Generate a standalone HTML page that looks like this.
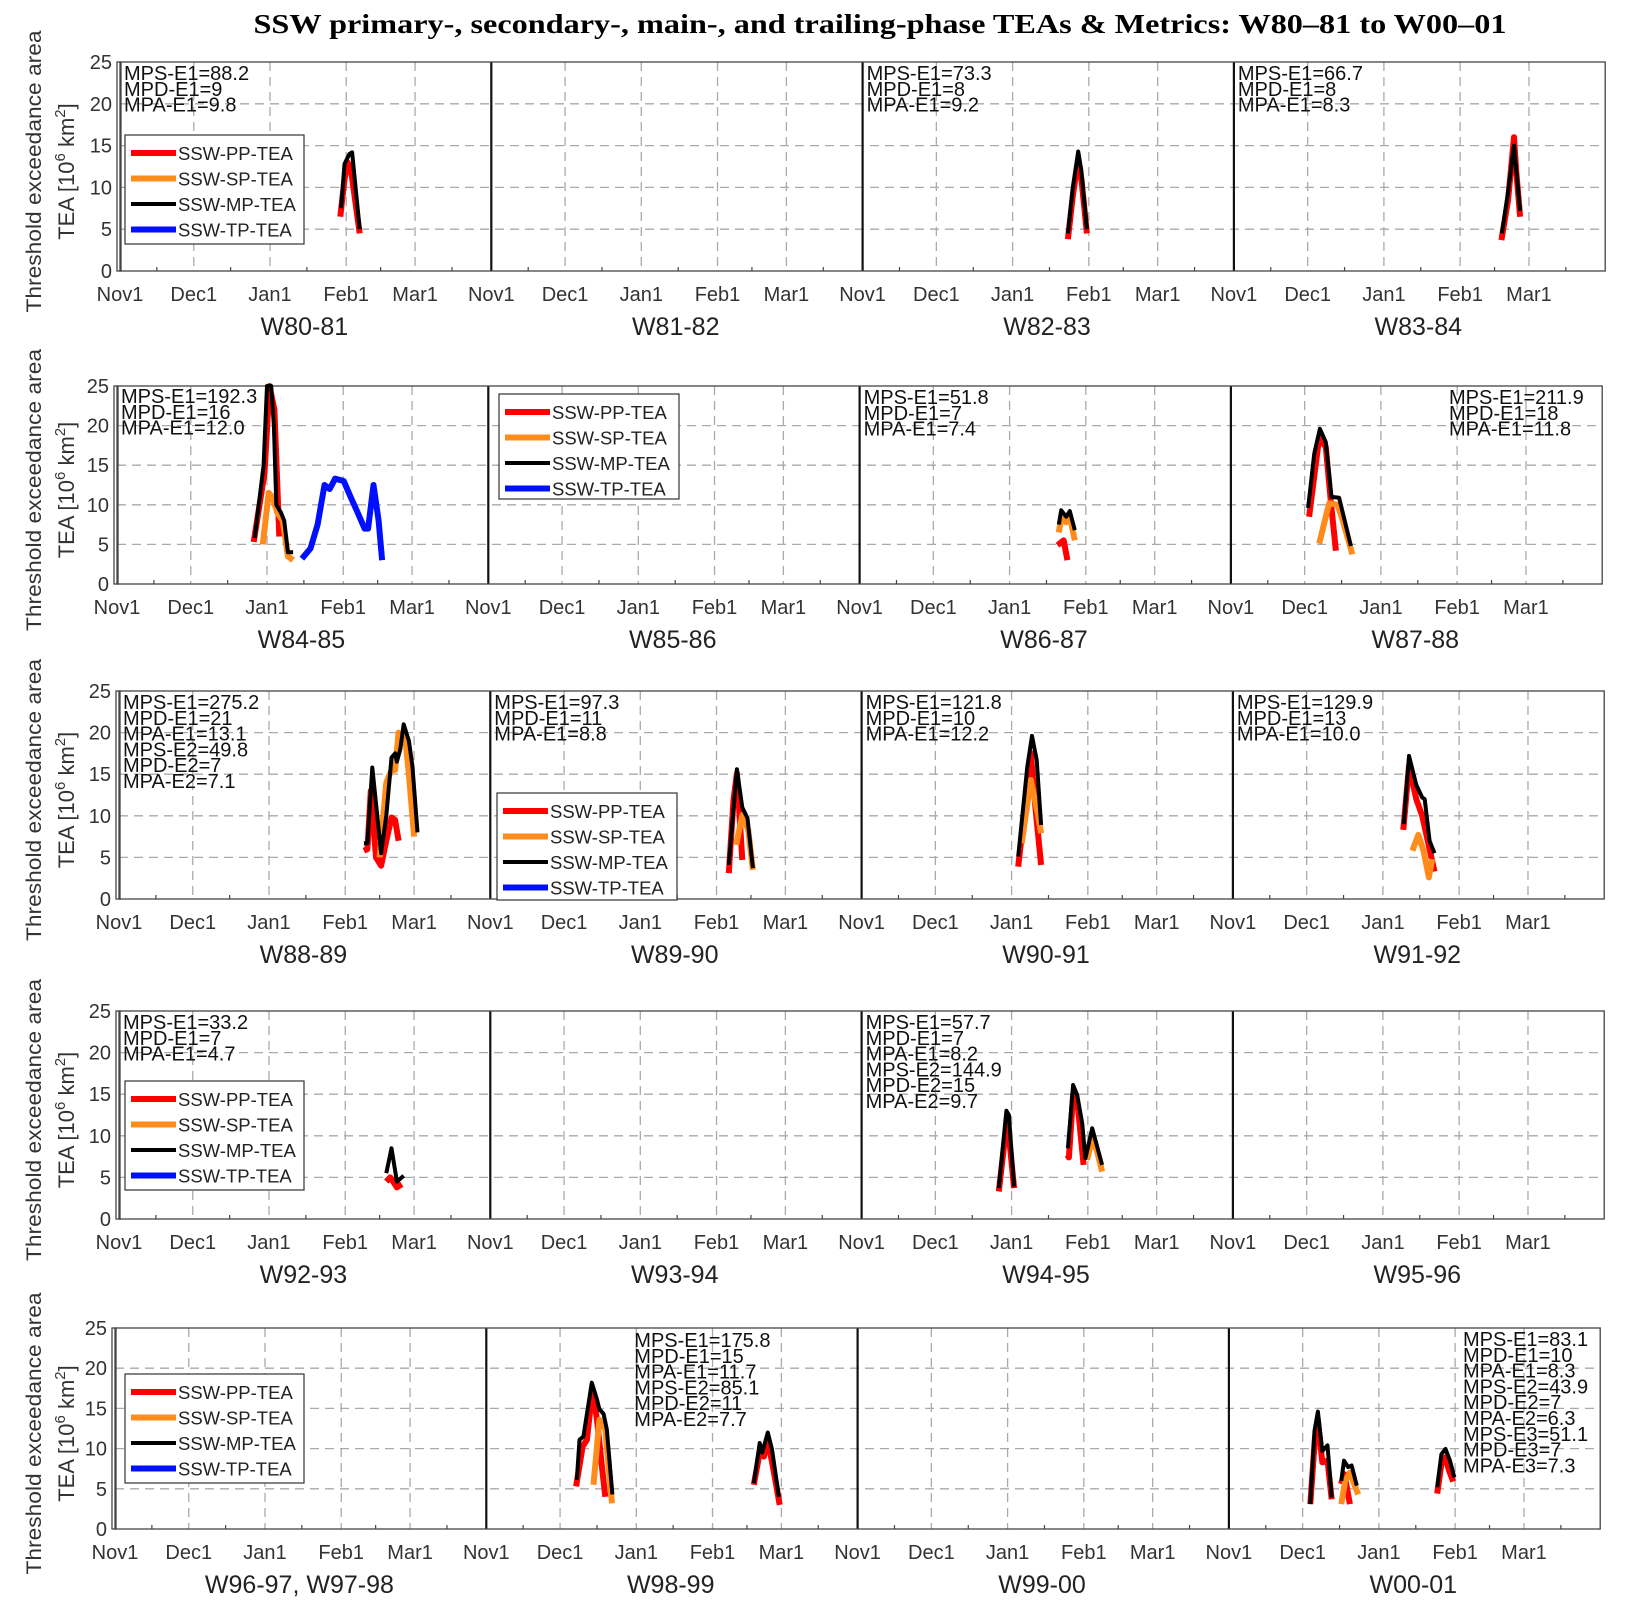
<!DOCTYPE html>
<html><head><meta charset="utf-8"><title>SSW TEAs</title>
<style>html,body{margin:0;padding:0;background:#fff}svg{display:block}</style></head>
<body>
<svg id="chart" width="1628" height="1614" viewBox="0 0 1628 1614" xmlns="http://www.w3.org/2000/svg" font-family="Liberation Sans, Arial, sans-serif">
<text x="880" y="33" text-anchor="middle" font-family="Liberation Serif, serif" font-weight="bold" font-size="27" textLength="1253" lengthAdjust="spacingAndGlyphs">SSW primary-, secondary-, main-, and trailing-phase TEAs &amp; Metrics: W80–81 to W00–01</text>
</svg>
<script>
// ---- data: [dayFromNov1, TEA] ----
const yTicks = [0,5,10,15,20,25];
const monthLabels = ['Nov1','Dec1','Jan1','Feb1','Mar1'];
const monthDays = [0,30,61,92,120];
const minorDays = [15,45,76,106,135];
const winterLabels = ['W80-81','W81-82','W82-83','W83-84','W84-85','W85-86','W86-87','W87-88','W88-89','W89-90','W90-91','W91-92','W92-93','W93-94','W94-95','W95-96','W96-97, W97-98','W98-99','W99-00','W00-01'];
const legendItems = ['SSW-PP-TEA','SSW-SP-TEA','SSW-MP-TEA','SSW-TP-TEA'];

const w8081_pp = [[89.6,6.5],[91.3,11],[92.6,13],[94,12],[97.5,4.5]];
const w8081_mp = [[89.9,7.5],[91.3,12.8],[93.3,14],[94.4,14.2],[97.5,5]];
const w8283_pp = [[83.5,3.8],[85.5,9],[87.5,13],[89,11],[91.2,4.5]];
const w8283_mp = [[83.5,4.5],[85.5,10],[87.7,14.3],[89,12],[91.2,5]];
const w8384_pp = [[108.8,3.7],[111.5,8.5],[113.9,16],[114.8,12],[116.4,6.5]];
const w8384_mp = [[109,4.5],[111.5,9.5],[113.9,15],[116.4,7.2]];
const w8485_pp = [[55.6,5.3],[60,14],[62,25],[64,22],[66,6]];
const w8485_sp = [[59.3,5],[61.7,11.5],[63.1,11],[65.2,9],[67.4,8],[69.5,3.5],[71.6,3]];
const w8485_mp = [[56,5.8],[59.6,15],[61,25],[62.7,25],[63.8,20],[64.8,10],[66.7,9],[68,8],[69.5,4],[71.6,4]];
const w8485_tp = [[75.2,3.2],[78.7,4.5],[81.6,7.5],[84.4,12.5],[86.5,12],[88.7,13.3],[92.2,13],[95,11],[97.9,9],[100.7,7],[102.1,7],[104.3,12.5],[106.4,8],[107.8,3]];
const w8687_pp = [[80.5,4.9],[83,5.5],[84.5,3]];
const w8687_sp = [[81,6.5],[82,8.3],[84,7.8],[85.5,8.5],[87.5,5.5]];
const w8687_mp = [[81,7.5],[82,9.3],[84,8.5],[85.5,9.2],[87.5,6.8]];
const w8788_pp = [[31.8,8.5],[35.9,18.5],[38.6,17.3],[40.7,10.2],[42.7,4.2]];
const w8788_sp = [[35.9,5.1],[38.6,8.5],[40,10.2],[43.4,10],[45.4,8.1],[49.4,3.75]];
const w8788_mp = [[31.4,9.6],[33.9,16.5],[36.2,19.6],[38.6,17.9],[40.9,11],[44,10.9],[48.8,4.8]];
const w8889_pp = [[99.6,5.8],[101,6],[102.4,13],[104.5,5],[106.6,4],[108.7,7],[110.8,9.8],[112.3,9.5],[113.7,7]];
const w8889_sp = [[106,5],[108.7,14],[110.8,15.5],[112.3,15.5],[113.7,20],[116.5,19],[117.9,15],[120,7.5]];
const w8889_mp = [[99.6,6.7],[101,6.7],[103,15.8],[106.6,5.5],[108.7,10],[110.8,17],[112.3,17.5],[113,16.5],[114.4,18],[115.8,21],[117.9,19],[119.3,16],[121.4,8]];
const w8990_pp = [[97,3.1],[98.9,11.9],[100.3,15.1],[102.5,4.7]];
const w8990_sp = [[100,6.5],[102.5,10.1],[104.9,8.3],[106.8,3.5]];
const w8990_mp = [[97,4.1],[100.3,15.6],[102.5,11],[104.6,9.7],[106.8,3.7]];
const w9091_pp = [[63.7,3.9],[67.4,13.5],[68.8,17.5],[70.5,11.5],[73,4.1]];
const w9091_sp = [[65.1,6.7],[68.8,14.3],[71.6,10.3],[73,7.9]];
const w9091_mp = [[63.7,5.1],[67.4,15.9],[69.3,19.6],[71.2,16.7],[73,8.9]];
const w9192_pp = [[69.3,8.3],[71.6,16],[74.6,12],[77,10],[80,6],[82,3.3]];
const w9192_sp = [[73,5.8],[75.4,7.7],[77.5,5.8],[79.7,2.6],[81,4.8]];
const w9192_mp = [[69.5,9],[71.6,17.2],[74.6,13.7],[77,12.2],[78,12],[80,7],[82,5.5]];
const w9293_pp = [[108.7,4.5],[110.3,5],[111.5,4.5],[113,3.8],[115,4.2]];
const w9293_mp = [[108.7,5.5],[110.8,8.5],[113,4.5],[115.8,5.2]];
const w9495_pp_e1 = [[55.8,3.3],[59.2,12.1],[62,3.7]];
const w9495_mp_e1 = [[55.8,3.7],[58.9,13],[59.9,12.5],[62,3.9]];
const w9495_pp_e2 = [[83.6,7.7],[84.3,7.4],[86,14.9],[87.9,13.7],[90.3,6.5]];
const w9495_sp_e2 = [[91.7,7.1],[93.8,9.7],[95.8,8.1],[97.8,5.7]];
const w9495_mp_e2 = [[83.9,8.5],[86,16.1],[87.7,14.9],[89.7,11.5],[91,7.3],[93.8,10.9],[95.8,8.7],[97.8,6.5]];
const w9899_pp_e1 = [[36.5,5.3],[39.2,10.3],[40.9,11.1],[43.2,17.4],[45,13.6],[47,7.8],[48.4,4]];
const w9899_sp_e1 = [[43.6,5.5],[46,13.6],[48.4,12.4],[51.1,3.2]];
const w9899_mp_e1 = [[36.8,6.1],[37.9,11.1],[39.5,11.5],[42.9,18.2],[45,16.1],[46,14.9],[47.7,14.3],[49,12.4],[51.3,4.3]];
const w9899_pp_e2 = [[108.8,5.5],[111.2,9.5],[112.9,9],[114.5,11.1],[117,7],[119.3,3]];
const w9899_mp_e2 = [[108.8,5.7],[111.2,10.7],[112.2,9.5],[114.5,12],[116.2,9.9],[119,4]];
const w0001_pp_e1 = [[33.1,3.1],[35,11.4],[36.2,13.5],[38,8.3],[40.1,8.5],[41.8,3.7]];
const w0001_mp_e1 = [[33.1,3.1],[34.8,12.2],[36.2,14.6],[38,9.7],[40.1,10.4],[41.8,3.9]];
const w0001_pp_e2 = [[45.6,5.6],[47,6.8],[49.2,3.1]];
const w0001_sp_e2 = [[45.7,3.1],[47.3,6],[49.2,7],[52.6,4.3]];
const w0001_mp_e2 = [[45.7,6],[46.8,8.5],[48.5,7.7],[49.9,7.9],[52,5.4]];
const w0001_pp_e3 = [[84.7,4.4],[86.4,8.1],[88,8.9],[89.5,7.3],[91.2,5.9]];
const w0001_mp_e3 = [[84.7,5.2],[86.4,9.3],[88.1,9.95],[89.9,8.5],[91.7,6.4]];

const stats_8081 = ['MPS-E1=88.2','MPD-E1=9','MPA-E1=9.8'];
const stats_8283 = ['MPS-E1=73.3','MPD-E1=8','MPA-E1=9.2'];
const stats_8384 = ['MPS-E1=66.7','MPD-E1=8','MPA-E1=8.3'];
const stats_8485 = ['MPS-E1=192.3','MPD-E1=16','MPA-E1=12.0'];
const stats_8687 = ['MPS-E1=51.8','MPD-E1=7','MPA-E1=7.4'];
const stats_8788 = ['MPS-E1=211.9','MPD-E1=18','MPA-E1=11.8'];
const stats_8889 = ['MPS-E1=275.2','MPD-E1=21','MPA-E1=13.1','MPS-E2=49.8','MPD-E2=7','MPA-E2=7.1'];
const stats_8990 = ['MPS-E1=97.3','MPD-E1=11','MPA-E1=8.8'];
const stats_9091 = ['MPS-E1=121.8','MPD-E1=10','MPA-E1=12.2'];
const stats_9192 = ['MPS-E1=129.9','MPD-E1=13','MPA-E1=10.0'];
const stats_9293 = ['MPS-E1=33.2','MPD-E1=7','MPA-E1=4.7'];
const stats_9495 = ['MPS-E1=57.7','MPD-E1=7','MPA-E1=8.2','MPS-E2=144.9','MPD-E2=15','MPA-E2=9.7'];
const stats_9899 = ['MPS-E1=175.8','MPD-E1=15','MPA-E1=11.7','MPS-E2=85.1','MPD-E2=11','MPA-E2=7.7'];
const stats_0001 = ['MPS-E1=83.1','MPD-E1=10','MPA-E1=8.3','MPS-E2=43.9','MPD-E2=7','MPA-E2=6.3','MPS-E3=51.1','MPD-E3=7','MPA-E3=7.3'];

// ---- layout (not data) ----
const rows = [{top:62,bot:271,left:120},{top:386,bot:584,left:117},{top:691,bot:899,left:119},{top:1011,bot:1219,left:119},{top:1328,bot:1529,left:115}];
const PW = 371.3, DAYS = 151, YMAX = 25;
const COL = {pp:'#ff0000', sp:'#ff8c1a', mp:'#000000', tp:'#0010ff'};
const WID = {pp:6, sp:6, mp:4, tp:6};

const panelSeries = {
  0:[['pp',w8081_pp],['mp',w8081_mp]],
  2:[['pp',w8283_pp],['mp',w8283_mp]],
  3:[['pp',w8384_pp],['mp',w8384_mp]],
  4:[['pp',w8485_pp],['sp',w8485_sp],['mp',w8485_mp],['tp',w8485_tp]],
  6:[['pp',w8687_pp],['sp',w8687_sp],['mp',w8687_mp]],
  7:[['pp',w8788_pp],['sp',w8788_sp],['mp',w8788_mp]],
  8:[['pp',w8889_pp],['sp',w8889_sp],['mp',w8889_mp]],
  9:[['pp',w8990_pp],['sp',w8990_sp],['mp',w8990_mp]],
  10:[['pp',w9091_pp],['sp',w9091_sp],['mp',w9091_mp]],
  11:[['pp',w9192_pp],['sp',w9192_sp],['mp',w9192_mp]],
  12:[['pp',w9293_pp],['mp',w9293_mp]],
  14:[['pp',w9495_pp_e1],['mp',w9495_mp_e1],['pp',w9495_pp_e2],['sp',w9495_sp_e2],['mp',w9495_mp_e2]],
  17:[['pp',w9899_pp_e1],['sp',w9899_sp_e1],['mp',w9899_mp_e1],['pp',w9899_pp_e2],['mp',w9899_mp_e2]],
  19:[['pp',w0001_pp_e1],['mp',w0001_mp_e1],['pp',w0001_pp_e2],['sp',w0001_sp_e2],['mp',w0001_mp_e2],['pp',w0001_pp_e3],['mp',w0001_mp_e3]]
};
const panelStats = {0:[stats_8081,4,3],2:[stats_8283,4,3],3:[stats_8384,4,3],4:[stats_8485,4,2],6:[stats_8687,4,3],7:[stats_8788,-1,3],
  8:[stats_8889,4,3],9:[stats_8990,4,3],10:[stats_9091,4,3],11:[stats_9192,4,3],12:[stats_9293,4,3],14:[stats_9495,4,3],17:[stats_9899,148,4],19:[stats_0001,-1,3]};
const statsRightX = {7:1449, 19:1463};
const legendPanels = {0:[125,135,179,109],5:[499,394,180,105],9:[497,793,180,107],12:[125,1081,179,109],16:[125,1374,179,109]};

const NS = 'http://www.w3.org/2000/svg';
const svg = document.getElementById('chart');
function mk(tag, attrs, parent){ const e=document.createElementNS(NS,tag); for(const k in attrs) e.setAttribute(k,attrs[k]); (parent||svg).appendChild(e); return e; }
function xScale(r,c,day){ return rows[r].left + c*PW + day*PW/DAYS; }
function yScale(r,v){ const R=rows[r]; return R.bot - v*(R.bot-R.top)/YMAX; }

rows.forEach((R,r)=>{
  const g = mk('g',{});
  
  
  const right = R.left + 4*PW;
  yTicks.forEach(t=>{
    if(t>0 && t<25){
      const l = mk('line',{x1:R.left,x2:right,y1:yScale(r,t),y2:yScale(r,t),stroke:'#aaa','stroke-width':1.3,'stroke-dasharray':'9,6'},g);
      
      
    }
    const tl = mk('text',{x:R.left-8,y:yScale(r,t)+7,'text-anchor':'end','font-size':20,fill:'#333'},g);
    tl.textContent = t;
    
    
  });
  for(let c=0;c<4;c++){
    monthDays.forEach((d,i)=>{
      const x = xScale(r,c,d);
      if(i>0){
        const l = mk('line',{x1:x,x2:x,y1:R.top,y2:R.bot,stroke:'#aaa','stroke-width':1.3,'stroke-dasharray':'9,6'},g);
        
        
      }
      const tl = mk('text',{x:x,y:R.bot+30,'text-anchor':'middle','font-size':20,fill:'#333'},g);
      tl.textContent = monthLabels[i];
      
      
    });
    minorDays.forEach(d=>{
      const x = xScale(r,c,d);
      const m = mk('line',{x1:x,x2:x,y1:R.bot,y2:R.bot-4,stroke:'#444','stroke-width':1.2},g);
      
      
    });
    if(c>0){
      const s = mk('line',{x1:xScale(r,c,0),x2:xScale(r,c,0),y1:R.top,y2:R.bot,stroke:'#111','stroke-width':2.2},g);
      
      
    }
    const wl = mk('text',{x:xScale(r,c,75),y:R.bot+64,'text-anchor':'middle','font-size':25,fill:'#222'},g);
    wl.textContent = winterLabels[r*4+c];
    
    
  }
  const fr = mk('rect',{x:R.left,y:R.top,width:4*PW,height:R.bot-R.top,fill:'none',stroke:'#444','stroke-width':1.3},g);
  
  
  const ax = mk('rect',{x:R.left-3,y:R.top,width:4,height:R.bot-R.top,fill:'none',stroke:'#444','stroke-width':1.3},g);
  
  
  const cy = (R.top+R.bot)/2 + 5;
  const y1 = mk('text',{transform:`translate(41,${cy}) rotate(-90)`,'text-anchor':'middle','font-size':21,fill:'#333',textLength:282,lengthAdjust:'spacingAndGlyphs'},g);
  y1.textContent = 'Threshold exceedance area';
  
  
  const y2 = mk('text',{transform:`translate(74,${cy}) rotate(-90)`,'text-anchor':'middle','font-size':22,fill:'#333'},g);
  y2.innerHTML = 'TEA [10<tspan dy="-9" font-size="15">6</tspan><tspan dy="9"> km</tspan><tspan dy="-9" font-size="15">2</tspan><tspan dy="9">]</tspan>';
  
  
});

Object.keys(panelSeries).forEach(k=>{
  const p=+k, r=Math.floor(p/4), c=p%4;
  panelSeries[k].forEach(([key,pts])=>{
    const d = pts.map((pt,i)=>(i?'L':'M')+xScale(r,c,pt[0]).toFixed(1)+','+yScale(r,pt[1]).toFixed(1)).join(' ');
    const path = mk('path',{d:d,fill:'none',stroke:COL[key],'stroke-width':WID[key],'stroke-linejoin':'round'});
    
    
  });
});

Object.keys(panelStats).forEach(k=>{
  const p=+k, r=Math.floor(p/4), c=p%4;
  const [lines,off,dy] = panelStats[k];
  const x0 = off<0 ? statsRightX[p] : rows[r].left + c*PW + off;
  const g = mk('g',{});
  
  
  lines.forEach((s,i)=>{
    const t = mk('text',{x:x0,y:rows[r].top+dy+15+i*15.8,'font-size':20,fill:'#111'},g);
    t.textContent = s;
    
    
  });
});

Object.keys(legendPanels).forEach(k=>{
  const [lx,ly,lw,lh] = legendPanels[k];
  const g = mk('g',{});
  
  
  mk('rect',{x:lx,y:ly,width:lw,height:lh,fill:'#fff',stroke:'#333','stroke-width':1.2},g);
  const keys=['pp','sp','mp','tp'];
  legendItems.forEach((name,i)=>{
    const yy = ly + 18 + i*25.5;
    const l = mk('line',{x1:lx+6,x2:lx+51,y1:yy,y2:yy,stroke:COL[keys[i]],'stroke-width':keys[i]==='mp'?4:6},g);
    
    
    const t = mk('text',{x:lx+53,y:yy+7,'font-size':18.5,fill:'#222'},g);
    t.textContent = name;
    
    
  });
});
</script>
</body></html>
